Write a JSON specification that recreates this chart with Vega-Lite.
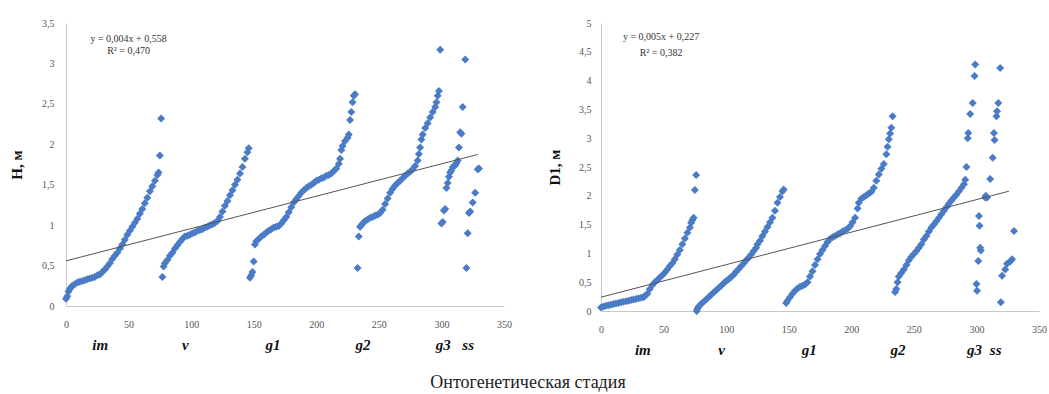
{
"$schema": "https://vega.github.io/schema/vega-lite/v6.json",
"background": "white",
"padding": {"left": 9, "top": 18, "right": 0, "bottom": 0},
"spacing": 97,
"bounds": "flush",
"title": {"text": "Онтогенетическая стадия", "orient": "bottom", "anchor": "middle", "font": "Liberation Serif", "fontSize": 18, "fontWeight": "normal", "color": "#222222", "offset": 17},
"config": {
  "view": {"stroke": null},
  "axis": {"grid": false, "ticks": false, "tickSize": 0, "domainColor": "#c8c8c8", "labelFont": "Liberation Serif", "labelFontSize": 10, "labelColor": "#555555", "titleFont": "Liberation Serif", "labelOverlap": false}
},
"datasets": {
"H": [
{"n":0,"v":0.09},{"n":1,"v":0.12},{"n":2,"v":0.18},{"n":3,"v":0.21},{"n":4,"v":0.23},{"n":5,"v":0.25},{"n":7,"v":0.27},{"n":9,"v":0.29},{"n":11,"v":0.3},{"n":13,"v":0.31},{"n":15,"v":0.32},{"n":17,"v":0.33},{"n":19,"v":0.34},{"n":21,"v":0.35},{"n":23,"v":0.36},{"n":25,"v":0.38},{"n":27,"v":0.39},{"n":29,"v":0.42},{"n":31,"v":0.45},{"n":33,"v":0.49},{"n":35,"v":0.53},{"n":37,"v":0.58},{"n":39,"v":0.62},{"n":41,"v":0.66},{"n":43,"v":0.71},{"n":45,"v":0.76},{"n":47,"v":0.82},{"n":49,"v":0.88},{"n":51,"v":0.93},{"n":53,"v":0.98},{"n":55,"v":1.03},{"n":57,"v":1.08},{"n":59,"v":1.14},{"n":61,"v":1.2},{"n":63,"v":1.27},{"n":65,"v":1.34},{"n":67,"v":1.42},{"n":69,"v":1.48},{"n":71,"v":1.55},{"n":73,"v":1.62},{"n":74,"v":1.65},{"n":75,"v":1.86},{"n":76,"v":2.32},
{"n":77,"v":0.36},{"n":78,"v":0.49},{"n":79,"v":0.53},{"n":81,"v":0.57},{"n":83,"v":0.62},{"n":85,"v":0.66},{"n":87,"v":0.71},{"n":89,"v":0.75},{"n":91,"v":0.79},{"n":93,"v":0.83},{"n":95,"v":0.86},{"n":97,"v":0.87},{"n":99,"v":0.88},{"n":101,"v":0.9},{"n":103,"v":0.91},{"n":105,"v":0.93},{"n":107,"v":0.94},{"n":109,"v":0.95},{"n":111,"v":0.97},{"n":113,"v":0.98},{"n":115,"v":1.0},{"n":117,"v":1.01},{"n":119,"v":1.03},{"n":121,"v":1.05},{"n":123,"v":1.1},{"n":125,"v":1.17},{"n":127,"v":1.24},{"n":129,"v":1.3},{"n":131,"v":1.37},{"n":133,"v":1.43},{"n":135,"v":1.5},{"n":137,"v":1.56},{"n":139,"v":1.64},{"n":141,"v":1.72},{"n":143,"v":1.82},{"n":145,"v":1.9},{"n":146,"v":1.95},
{"n":147,"v":0.35},{"n":148,"v":0.38},{"n":149,"v":0.42},{"n":150,"v":0.55},{"n":151,"v":0.76},{"n":152,"v":0.8},{"n":154,"v":0.83},{"n":156,"v":0.86},{"n":158,"v":0.88},{"n":160,"v":0.91},{"n":162,"v":0.93},{"n":164,"v":0.95},{"n":166,"v":0.97},{"n":168,"v":0.98},{"n":170,"v":0.99},{"n":172,"v":1.02},{"n":174,"v":1.06},{"n":176,"v":1.1},{"n":178,"v":1.16},{"n":180,"v":1.22},{"n":182,"v":1.28},{"n":184,"v":1.32},{"n":186,"v":1.36},{"n":188,"v":1.4},{"n":190,"v":1.43},{"n":192,"v":1.46},{"n":194,"v":1.48},{"n":196,"v":1.5},{"n":198,"v":1.52},{"n":200,"v":1.55},{"n":202,"v":1.56},{"n":204,"v":1.58},{"n":206,"v":1.59},{"n":208,"v":1.61},{"n":210,"v":1.62},{"n":212,"v":1.64},{"n":214,"v":1.67},{"n":216,"v":1.7},{"n":218,"v":1.76},{"n":219,"v":1.82},{"n":220,"v":1.93},{"n":221,"v":1.98},{"n":223,"v":2.04},{"n":225,"v":2.08},{"n":226,"v":2.12},{"n":227,"v":2.3},{"n":228,"v":2.4},{"n":229,"v":2.52},{"n":230,"v":2.6},{"n":231,"v":2.62},
{"n":233,"v":0.47},{"n":234,"v":0.86},{"n":235,"v":0.98},{"n":236,"v":1.0},{"n":237,"v":1.02},{"n":239,"v":1.05},{"n":241,"v":1.07},{"n":243,"v":1.09},{"n":245,"v":1.1},{"n":247,"v":1.12},{"n":249,"v":1.13},{"n":251,"v":1.15},{"n":253,"v":1.19},{"n":255,"v":1.26},{"n":257,"v":1.33},{"n":259,"v":1.4},{"n":261,"v":1.45},{"n":263,"v":1.49},{"n":265,"v":1.52},{"n":267,"v":1.55},{"n":269,"v":1.58},{"n":271,"v":1.61},{"n":273,"v":1.64},{"n":275,"v":1.66},{"n":277,"v":1.69},{"n":279,"v":1.73},{"n":281,"v":1.8},{"n":282,"v":1.88},{"n":283,"v":1.96},{"n":284,"v":2.06},{"n":285,"v":2.12},{"n":287,"v":2.2},{"n":289,"v":2.26},{"n":291,"v":2.33},{"n":293,"v":2.4},{"n":295,"v":2.46},{"n":296,"v":2.52},{"n":297,"v":2.6},{"n":298,"v":2.66},{"n":299,"v":3.17},
{"n":300,"v":1.02},{"n":301,"v":1.04},{"n":302,"v":1.18},{"n":303,"v":1.2},{"n":304,"v":1.46},{"n":305,"v":1.52},{"n":306,"v":1.6},{"n":307,"v":1.65},{"n":308,"v":1.68},{"n":309,"v":1.72},{"n":311,"v":1.74},{"n":312,"v":1.77},{"n":313,"v":1.8},{"n":314,"v":1.96},{"n":315,"v":2.15},{"n":316,"v":2.13},{"n":317,"v":2.46},{"n":319,"v":3.05},
{"n":320,"v":0.47},{"n":321,"v":0.9},{"n":322,"v":1.15},{"n":323,"v":1.17},{"n":325,"v":1.28},{"n":327,"v":1.4},{"n":329,"v":1.69},{"n":330,"v":1.7}
],
"D1": [
{"n":0,"v":0.06},{"n":2,"v":0.08},{"n":4,"v":0.09},{"n":6,"v":0.1},{"n":8,"v":0.11},{"n":10,"v":0.12},{"n":12,"v":0.13},{"n":14,"v":0.14},{"n":16,"v":0.15},{"n":18,"v":0.16},{"n":20,"v":0.17},{"n":22,"v":0.18},{"n":24,"v":0.19},{"n":26,"v":0.2},{"n":28,"v":0.21},{"n":30,"v":0.22},{"n":32,"v":0.23},{"n":34,"v":0.24},{"n":35,"v":0.26},{"n":37,"v":0.3},{"n":39,"v":0.38},{"n":41,"v":0.45},{"n":43,"v":0.5},{"n":45,"v":0.54},{"n":47,"v":0.58},{"n":49,"v":0.62},{"n":51,"v":0.67},{"n":53,"v":0.72},{"n":55,"v":0.78},{"n":57,"v":0.83},{"n":59,"v":0.9},{"n":61,"v":0.98},{"n":63,"v":1.06},{"n":65,"v":1.16},{"n":67,"v":1.26},{"n":69,"v":1.36},{"n":71,"v":1.45},{"n":72,"v":1.53},{"n":73,"v":1.58},{"n":74,"v":1.62},{"n":75,"v":2.1},{"n":76,"v":2.36},
{"n":76.5,"v":0.0},{"n":77,"v":0.04},{"n":78,"v":0.08},{"n":80,"v":0.12},{"n":82,"v":0.16},{"n":84,"v":0.2},{"n":86,"v":0.24},{"n":88,"v":0.28},{"n":90,"v":0.32},{"n":92,"v":0.36},{"n":94,"v":0.4},{"n":96,"v":0.44},{"n":98,"v":0.48},{"n":100,"v":0.52},{"n":102,"v":0.55},{"n":104,"v":0.59},{"n":106,"v":0.63},{"n":108,"v":0.68},{"n":110,"v":0.73},{"n":112,"v":0.78},{"n":114,"v":0.83},{"n":116,"v":0.88},{"n":118,"v":0.93},{"n":120,"v":0.98},{"n":122,"v":1.04},{"n":124,"v":1.1},{"n":125,"v":1.16},{"n":127,"v":1.22},{"n":129,"v":1.3},{"n":131,"v":1.38},{"n":133,"v":1.46},{"n":135,"v":1.54},{"n":137,"v":1.62},{"n":139,"v":1.74},{"n":141,"v":1.88},{"n":143,"v":1.98},{"n":145,"v":2.08},{"n":146,"v":2.11},
{"n":148,"v":0.14},{"n":149,"v":0.18},{"n":151,"v":0.24},{"n":153,"v":0.3},{"n":155,"v":0.35},{"n":157,"v":0.39},{"n":159,"v":0.42},{"n":161,"v":0.44},{"n":163,"v":0.46},{"n":165,"v":0.5},{"n":167,"v":0.6},{"n":169,"v":0.69},{"n":171,"v":0.8},{"n":173,"v":0.9},{"n":175,"v":0.99},{"n":177,"v":1.06},{"n":179,"v":1.13},{"n":181,"v":1.2},{"n":183,"v":1.25},{"n":185,"v":1.28},{"n":187,"v":1.3},{"n":189,"v":1.33},{"n":191,"v":1.35},{"n":193,"v":1.38},{"n":195,"v":1.4},{"n":197,"v":1.43},{"n":199,"v":1.47},{"n":201,"v":1.54},{"n":203,"v":1.62},{"n":205,"v":1.78},{"n":206,"v":1.88},{"n":208,"v":1.95},{"n":210,"v":1.98},{"n":212,"v":2.01},{"n":214,"v":2.04},{"n":216,"v":2.07},{"n":218,"v":2.14},{"n":220,"v":2.26},{"n":222,"v":2.37},{"n":224,"v":2.47},{"n":226,"v":2.55},{"n":228,"v":2.72},{"n":229,"v":2.85},{"n":230,"v":2.98},{"n":231,"v":3.08},{"n":232,"v":3.18},{"n":233,"v":3.38},
{"n":235,"v":0.33},{"n":236,"v":0.38},{"n":237,"v":0.5},{"n":238,"v":0.6},{"n":240,"v":0.66},{"n":242,"v":0.72},{"n":244,"v":0.8},{"n":246,"v":0.88},{"n":248,"v":0.94},{"n":250,"v":0.99},{"n":252,"v":1.04},{"n":254,"v":1.1},{"n":256,"v":1.16},{"n":258,"v":1.24},{"n":260,"v":1.3},{"n":262,"v":1.38},{"n":264,"v":1.45},{"n":266,"v":1.5},{"n":268,"v":1.56},{"n":270,"v":1.62},{"n":272,"v":1.68},{"n":274,"v":1.74},{"n":276,"v":1.8},{"n":278,"v":1.86},{"n":280,"v":1.92},{"n":282,"v":1.97},{"n":284,"v":2.02},{"n":286,"v":2.08},{"n":288,"v":2.14},{"n":290,"v":2.2},{"n":291,"v":2.28},{"n":292,"v":2.5},
{"n":293,"v":3.0},{"n":293.5,"v":3.09},{"n":295,"v":3.42},{"n":297,"v":3.61},{"n":298.5,"v":4.08},{"n":299,"v":4.28},{"n":300,"v":0.47},{"n":300.5,"v":0.35},{"n":301.5,"v":0.87},{"n":302,"v":1.65},{"n":302.5,"v":1.48},{"n":303,"v":1.1},{"n":303.5,"v":1.05},{"n":307,"v":1.97},{"n":307.5,"v":2.0},
{"n":308.5,"v":1.97},{"n":311,"v":2.29},{"n":313,"v":2.66},{"n":314,"v":3.09},{"n":314.5,"v":2.97},{"n":316,"v":3.38},{"n":316.5,"v":3.47},{"n":317.5,"v":3.61},{"n":319,"v":4.22},{"n":319.5,"v":0.15},{"n":320.5,"v":0.61},{"n":323,"v":0.72},{"n":324.5,"v":0.82},{"n":327,"v":0.86},{"n":328.5,"v":0.9},{"n":330,"v":1.39}
],
"trendH": [{"n":0,"v":0.558},{"n":329,"v":1.874}],
"trendD": [{"n":0,"v":0.24},{"n":326,"v":2.08}],
"eqH": [{"n":50,"v":3.3,"t":"y = 0,004x + 0,558"},{"n":50,"v":3.15,"t":"R² = 0,470"}],
"eqD": [{"n":48,"v":4.76,"t":"y = 0,005x + 0,227"},{"n":48,"v":4.48,"t":"R² = 0,382"}]
},
"hconcat": [
{
"width": 438, "height": 283,
"resolve": {"axis": {"x": "independent"}},
"encoding": {
  "y": {"field": "v", "type": "quantitative", "scale": {"domain": [0, 3.5], "nice": false},
        "axis": {"title": "H, м", "values": [0,0.5,1,1.5,2,2.5,3,3.5], "labelExpr": "replace(format(datum.value, '~g'), '.', ',')", "labelOverlap": false, "labelPadding": 12, "titlePadding": 17, "titleFontSize": 15, "titleFontWeight": "bold", "titleColor": "#111111"}}
},
"layer": [
{"data": {"name": "H"},
 "mark": {"type": "point", "shape": "diamond", "filled": true, "size": 64, "color": "#4A7BC6", "opacity": 1},
 "encoding": {
  "x": {"field": "n", "type": "quantitative", "scale": {"domain": [0, 350], "nice": false, "zero": false},
        "axis": {"title": null, "values": [0,50,100,150,200,250,300,350], "labelPadding": 13, "labelFlush": false}}
 }},
{"data": {"name": "trendH"},
 "mark": {"type": "line", "color": "#555555", "strokeWidth": 1},
 "encoding": {
  "x": {"field": "n", "type": "quantitative", "scale": {"domain": [0, 350], "nice": false, "zero": false},
        "axis": {"orient": "bottom", "title": null, "domain": false, "values": [27,95,165,237,301,321], "labelExpr": "datum.value == 27 ? 'im' : datum.value == 95 ? 'v' : datum.value == 165 ? 'g1' : datum.value == 237 ? 'g2' : datum.value == 301 ? 'g3' : 'ss'", "labelPadding": 31, "labelFlush": false, "labelOverlap": false, "labelFontSize": 15, "labelFontStyle": "italic", "labelFontWeight": "bold", "labelColor": "#111111"}}
 }},
{"data": {"name": "eqH"},
 "mark": {"type": "text", "font": "Liberation Serif", "fontSize": 10, "color": "#333333"},
 "encoding": {
  "x": {"field": "n", "type": "quantitative", "axis": null},
  "text": {"field": "t"}
 }}
]
},
{
"width": 438, "height": 288,
"resolve": {"axis": {"x": "independent"}},
"encoding": {
  "y": {"field": "v", "type": "quantitative", "scale": {"domain": [0, 5], "nice": false},
        "axis": {"title": "D1, м", "values": [0,0.5,1,1.5,2,2.5,3,3.5,4,4.5,5], "labelExpr": "replace(format(datum.value, '~g'), '.', ',')", "labelOverlap": false, "labelPadding": 10, "titlePadding": 16, "titleFontSize": 15, "titleFontWeight": "bold", "titleColor": "#111111"}}
},
"layer": [
{"data": {"name": "D1"},
 "mark": {"type": "point", "shape": "diamond", "filled": true, "size": 64, "color": "#4A7BC6", "opacity": 1},
 "encoding": {
  "x": {"field": "n", "type": "quantitative", "scale": {"domain": [0, 350], "nice": false, "zero": false},
        "axis": {"title": null, "values": [0,50,100,150,200,250,300,350], "labelPadding": 13, "labelFlush": false}}
 }},
{"data": {"name": "trendD"},
 "mark": {"type": "line", "color": "#555555", "strokeWidth": 1},
 "encoding": {
  "x": {"field": "n", "type": "quantitative", "scale": {"domain": [0, 350], "nice": false, "zero": false},
        "axis": {"orient": "bottom", "title": null, "domain": false, "values": [33,96,166,237,298,315], "labelExpr": "datum.value == 33 ? 'im' : datum.value == 96 ? 'v' : datum.value == 166 ? 'g1' : datum.value == 237 ? 'g2' : datum.value == 298 ? 'g3' : 'ss'", "labelPadding": 31, "labelFlush": false, "labelOverlap": false, "labelFontSize": 15, "labelFontStyle": "italic", "labelFontWeight": "bold", "labelColor": "#111111"}}
 }},
{"data": {"name": "eqD"},
 "mark": {"type": "text", "font": "Liberation Serif", "fontSize": 10, "color": "#333333"},
 "encoding": {
  "x": {"field": "n", "type": "quantitative", "axis": null},
  "text": {"field": "t"}
 }}
]
}
]
}
